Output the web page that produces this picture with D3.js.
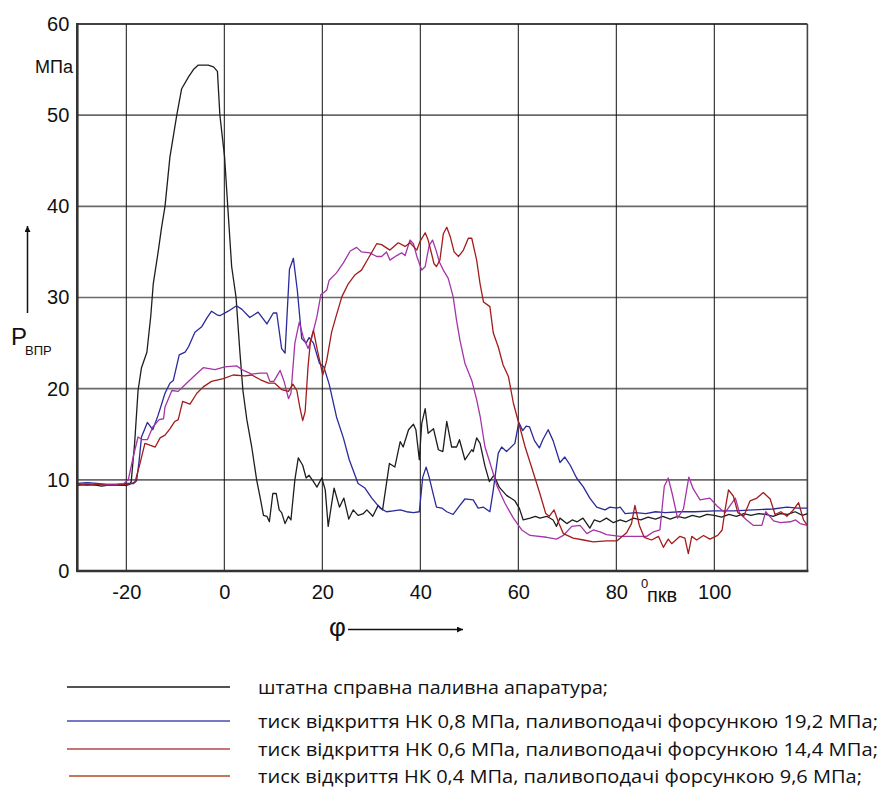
<!DOCTYPE html>
<html>
<head>
<meta charset="utf-8">
<script src="https://cdn.jsdelivr.net/npm/d3@7"></script>
<style>
  html, body { margin: 0; padding: 0; background: #fff; }
  svg { display: block; }
</style>
</head>
<body>
<svg id="chart" width="883" height="787"></svg>
<script>
// ---- data ----
const xTicks = [-20, 0, 20, 40, 60, 80, 100];
const yTicks = [0, 10, 20, 30, 40, 50, 60];

const legendLabels = [
  "штатна справна паливна апаратура;",
  "тиск відкриття НК 0,8 МПа, паливоподачі форсункою 19,2 МПа;",
  "тиск відкриття НК 0,6 МПа, паливоподачі форсункою 14,4 МПа;",
  "тиск відкриття НК 0,4 МПа, паливоподачі форсункою 9,6 МПа;"
];

const seriesStandard = [[-30,9.4],[-28,9.5],[-26,9.4],[-25,9.3],[-24,9.4],[-22,9.4],[-20,9.4],[-19.3,9.5],[-19,9.8],[-18.3,14],[-17.6,19.8],[-16.9,22.3],[-15.8,24],[-15,28],[-14.5,31.5],[-13.5,35],[-12.8,37.7],[-12.1,40],[-11.1,45.4],[-9.7,50],[-8.7,52.9],[-7.3,54.2],[-6.3,55],[-5.3,55.5],[-3.3,55.5],[-2.2,55.3],[-1.4,54.8],[-0.9,50],[0.06,45.4],[0.7,40],[1.5,33.4],[2.4,30],[3.2,23.9],[3.8,19.8],[4.6,16.6],[5.6,13.6],[6.6,10],[7.3,8.1],[8,6.1],[8.7,6],[9.2,5.4],[9.9,8.5],[10.6,8.5],[11.2,6.7],[11.7,6.4],[12.4,5.2],[13.1,6],[13.6,5.6],[14.4,10],[15.1,12.4],[16,11.6],[16.7,10.2],[17.3,10.5],[18.2,9.8],[18.9,9.2],[19.9,10.2],[20.6,8.9],[21.2,4.9],[22.4,9.1],[23.5,7],[24.4,8],[25.4,5.7],[26.3,6.7],[27.3,6.1],[28.4,6.3],[29.1,6.7],[30.3,6],[31.4,7.2],[32.3,6.7],[33.7,11.8],[34.8,11.4],[35.9,14.2],[36.5,13.6],[37.6,15.5],[38.6,16.1],[39.1,15.5],[39.8,12.2],[40.3,16.2],[41,17.8],[41.6,15.1],[42.7,15.6],[43.7,13.3],[44.6,13.1],[45.4,16.4],[46.4,13.6],[47.4,13.6],[48,14.4],[49.1,12.2],[50.5,13.3],[50.8,13.1],[51.5,14.6],[52.2,14],[53.2,11.5],[54.1,9.8],[55,10.5],[56.1,9.2],[57.6,8.3],[59.3,7.7],[60.2,6.9],[61,5.6],[62.4,5.8],[63.5,6],[64.4,5.8],[65.8,6],[67.1,5.6],[67.8,4.9],[68.5,5.8],[69.9,5.2],[71,5.6],[72,5.4],[73.2,5.8],[74.6,4.7],[75.5,5.6],[76.7,5.4],[78,5.8],[79.4,5.3],[80.8,5.6],[82,5.4],[83.5,5.8],[85,5.6],[86.5,5.9],[88,5.7],[89.5,6],[91,5.7],[92.5,6],[94,5.8],[95.5,6.1],[97,5.9],[98.5,6.2],[100,6.1],[101.5,5.9],[103,6.2],[104.5,6],[106,6.3],[107.5,6.1],[109,6.3],[110.5,6.2],[112,6],[113.5,6.3],[115,6.2],[116.5,6.5],[118,6.1],[119,6.3]];

const seriesNK08 = [[-30,9.6],[-28,9.7],[-26,9.6],[-24,9.5],[-22,9.5],[-20,9.6],[-18.5,9.6],[-17.9,9.9],[-17.4,12],[-16.9,14.7],[-15.7,16.3],[-14.6,15.5],[-13.5,17.1],[-12.1,19.5],[-11.1,20.6],[-10.4,20.9],[-9.2,23.7],[-8,24],[-7.3,24.6],[-6,26.2],[-4.6,26.8],[-3.5,27.8],[-2.6,28.5],[-1.5,28.1],[-0.9,28],[0.8,28.5],[2.5,29.1],[3.6,28.7],[5.2,27.8],[6.9,28.4],[8.7,27.1],[10,28.3],[10.7,28.3],[11.7,24.4],[12.4,23.9],[13.3,33.1],[14.1,34.3],[14.9,30.8],[15.8,25.5],[16.7,25],[17.3,25.6],[18.2,25],[19.4,22.8],[20.3,22.4],[21.4,20.5],[22.9,16.9],[24.3,14.6],[25.5,12.2],[27.3,9.6],[28.7,9.1],[30.1,8],[31.8,6.9],[33.1,6.5],[34.5,6.6],[35.9,6.7],[37.2,6.5],[38.6,6.4],[39.8,6.5],[40.5,10.3],[41.2,11.4],[41.8,10.3],[42.7,8.3],[43.3,7],[44.4,6.9],[45.4,6.5],[46.7,6.2],[47.8,7],[49.1,7.9],[50.8,7.8],[51.8,6.9],[52.9,7],[54.2,6.5],[54.9,8.9],[55.9,12.9],[56.6,13.6],[57.6,13.1],[59.3,14],[60.1,16.3],[60.9,15.4],[61.6,15.9],[62.3,15.8],[63.3,14.3],[64.3,13.5],[65,14.4],[66.1,15.5],[67.1,14.3],[68.5,11.9],[69.5,12.5],[70.6,11.6],[71.9,10.2],[73.3,9.2],[74.6,8],[76,7],[77.7,6.7],[78.7,7],[80.1,6.9],[80.8,7],[81.8,6.3],[84,6.4],[86,6.3],[88,6.5],[90,6.4],[93,6.5],[96,6.5],[100,6.6],[104,6.6],[108,6.7],[112,6.8],[114.8,7],[117,6.9],[119,6.9]];

const seriesNK06 = [[-30,9.5],[-28,9.6],[-26,9.5],[-24,9.5],[-22,9.5],[-20.5,9.6],[-19.6,10],[-18.6,12.5],[-17.6,14.7],[-16.7,14.4],[-15.7,14.4],[-14.6,15.8],[-13.3,16.6],[-12.4,16.7],[-12.1,18],[-10.7,19.8],[-9.4,19.7],[-7.7,20.6],[-6.3,21.3],[-4.3,22.3],[-1.9,22.1],[0.1,22.4],[2.5,22.5],[3.9,22],[5.6,21.6],[7.3,21.7],[8.7,21.7],[9.3,20.8],[10.1,20.8],[11.4,22],[12.2,20.8],[13.1,18.9],[13.6,19.5],[14.4,25],[15.3,27.3],[16.1,25.7],[17.1,24.4],[17.8,25.5],[18.9,27.9],[19.7,30.3],[20.9,30.8],[21.4,31.9],[22.9,32.7],[24.3,33.8],[25.7,35.1],[27,35.5],[28,35],[29.7,34.9],[31.1,34.5],[32.1,34.5],[33.1,35],[33.8,34.1],[35.2,34.6],[36.2,34.9],[36.9,34.6],[37.9,36.3],[38.6,35.9],[39.3,34.5],[40.3,33],[41,33.4],[41.8,35.7],[42.5,36.3],[43.2,35.2],[43.9,33.9],[44.7,33],[45.7,32.1],[46.7,30.1],[47.4,27.5],[48.1,25.3],[49.1,22.8],[50.5,20.9],[51.5,18.8],[52.2,17],[53.2,13.6],[54.2,11.9],[55.6,9.4],[57.3,7.4],[59,5.8],[60.7,4.5],[62.4,3.9],[65.8,3.7],[67.8,3.5],[69.2,3.9],[70.9,4.9],[72.6,5],[74,4.1],[75.3,4.5],[76.7,4.3],[78,4],[80.8,3.8],[84.8,3.8],[86.2,3.8],[87.6,4.3],[88.9,4.5],[89.8,9.3],[90.6,10.2],[91.4,8.5],[92.5,5.8],[93.7,6.8],[94.8,10.3],[95.7,9],[97.1,7.8],[99.1,8],[100.6,7.1],[102.2,6.4],[104.3,8],[105.2,6.3],[106.6,5.6],[108,5],[109.7,5],[110.5,6.5],[112.1,5.5],[113.5,5.3],[115.5,5.4],[116.6,5.6],[117.5,5.2],[119,5]];

const seriesNK04 = [[-30,9.5],[-28,9.4],[-26,9.5],[-24,9.4],[-22,9.4],[-20,9.5],[-18.8,9.6],[-18.2,9.8],[-17.2,11.8],[-16.2,14],[-15.2,13.8],[-14.1,13.6],[-13.1,14.6],[-12.1,14.9],[-11.1,15.6],[-10.1,16.4],[-9.4,16.6],[-8.5,18.6],[-7,18.3],[-5.6,19.5],[-4.3,20.2],[-2.6,20.8],[-0.2,21.1],[1.8,21.5],[4.2,21.4],[5.6,21.5],[7.3,21],[9,20.6],[10.3,20.6],[11.7,19.9],[13.1,19.7],[14,20.5],[14.8,19.8],[15.4,18],[16,16.5],[16.5,17.5],[17.1,22.5],[17.6,25.3],[18.2,26.4],[19,24.2],[20.1,21.5],[20.9,23.1],[21.9,26.2],[22.9,28.1],[24,30.1],[25.3,31.5],[26.7,32.5],[28,33],[29.4,34.3],[31.1,35.9],[32.1,35.8],[33.8,35.2],[35.5,36],[36.9,35.6],[37.9,36],[39.3,35.2],[39.9,36.1],[41,37.1],[41.6,36.3],[42.3,34.8],[42.8,33.7],[43.3,33.4],[44,34.1],[44.7,37],[45.4,37.7],[46.1,36.7],[46.9,35],[47.8,34.5],[48.8,35.2],[49.8,36.5],[50.5,36.5],[51.5,34.1],[52.2,31.5],[52.9,29.5],[54.2,29],[54.9,26.1],[55.9,24.6],[56.9,22.6],[58,21.3],[59,18.4],[60,16.4],[61.4,13.6],[62.7,11.4],[64.4,8.5],[65.6,6.3],[66.3,6],[67.3,6.7],[68.3,5.2],[69.2,4.1],[71.2,3.6],[73.3,3.4],[75.3,3.2],[78,3.3],[80.1,3.3],[82.1,4.2],[83.1,5.2],[83.8,7.2],[84.7,5],[85.7,3.7],[87.2,3.4],[88.6,3.8],[89.6,2.6],[90.6,3.5],[91.3,3],[93,3.8],[94,3.6],[94.7,1.9],[95.4,3.8],[96.4,3.4],[97.8,3.9],[99.1,3.5],[100.7,3.9],[101.6,4.5],[102.2,6.7],[102.9,8.9],[103.9,8.2],[104.8,6.4],[106,6],[107.3,7.7],[108.7,8],[110,8.6],[111.4,7.9],[112.4,6.2],[113.6,6.5],[114.8,6],[116,6.6],[117.2,7.5],[118.2,5.6],[119,5]];

// ---- drawing ----
const svg = d3.select("#chart");
svg.append("rect").attr("width", 883).attr("height", 787).attr("fill", "#fff");

const x = d3.scaleLinear().domain([-30, 119]).range([77.3, 807.4]);
const y = d3.scaleLinear().domain([0, 60]).range([571, 24]);
const FONT = "'Liberation Sans', Arial, sans-serif";

// horizontal grid
svg.append("g").selectAll("line").data(yTicks.filter(d => d > 0)).join("line")
  .attr("x1", x(-30)).attr("x2", x(119))
  .attr("y1", d => y(d)).attr("y2", d => y(d))
  .attr("stroke", d => d === 60 ? "#444" : "#6a6a6a")
  .attr("stroke-width", d => d === 60 ? 2 : 1.6);

// vertical grid
svg.append("g").selectAll("line").data(xTicks).join("line")
  .attr("x1", d => x(d)).attr("x2", d => x(d))
  .attr("y1", y(60)).attr("y2", y(0))
  .attr("stroke", "#111").attr("stroke-width", 1);

// right border
svg.append("line").attr("x1", x(119)).attr("x2", x(119)).attr("y1", y(60)).attr("y2", y(0))
  .attr("stroke", "#444").attr("stroke-width", 1.6);

// curves
const line = d3.line().x(d => x(d[0])).y(d => y(d[1]));
const curves = [
  {data: seriesStandard, color: "#1e1e1e"},
  {data: seriesNK08, color: "#2a2a9c"},
  {data: seriesNK06, color: "#a534a8"},
  {data: seriesNK04, color: "#a31c1c"}
];
svg.append("g").selectAll("path").data(curves).join("path")
  .attr("d", d => line(d.data))
  .attr("fill", "none")
  .attr("stroke", d => d.color)
  .attr("stroke-width", 1.3)
  .attr("stroke-linejoin", "round");

// axes
const fmt = d => String(d);
const yAxis = d3.axisLeft(y).tickValues(yTicks).tickFormat(fmt).tickSize(0).tickPadding(8);
const gy = svg.append("g").attr("transform", `translate(${x(-30)},0)`).call(yAxis);
gy.select(".domain").remove();
gy.selectAll("text").attr("font-family", FONT).attr("font-size", 20).attr("fill", "#111");

const xAxis = d3.axisBottom(x).tickValues(xTicks).tickFormat(fmt).tickSize(0).tickPadding(14);
const gx = svg.append("g").attr("transform", `translate(0,${y(0)})`).call(xAxis);
gx.select(".domain").remove();
gx.selectAll("text").attr("font-family", FONT).attr("font-size", 20).attr("fill", "#111");

svg.append("line").attr("x1", x(-30)).attr("x2", x(-30)).attr("y1", y(60) - 1).attr("y2", y(0) + 1)
  .attr("stroke", "#333").attr("stroke-width", 2.6);
svg.append("line").attr("x1", x(-30) - 1).attr("x2", x(119) + 1).attr("y1", y(0)).attr("y2", y(0))
  .attr("stroke", "#333").attr("stroke-width", 2.6);

// arrow marker
const defs = svg.append("defs");
defs.append("marker").attr("id", "arr").attr("viewBox", "0 0 10 10")
  .attr("refX", 10).attr("refY", 5).attr("markerWidth", 9).attr("markerHeight", 6)
  .attr("markerUnits", "userSpaceOnUse").attr("orient", "auto")
  .append("path").attr("d", "M0,0 L10,5 L0,10 z").attr("fill", "#111");

// y-axis title
svg.append("text").attr("x", 35).attr("y", 73).text("МПа")
  .attr("font-family", FONT).attr("font-size", 18).attr("fill", "#111");
svg.append("line").attr("x1", 27.5).attr("x2", 27.5).attr("y1", 313).attr("y2", 226)
  .attr("stroke", "#111").attr("stroke-width", 1.5).attr("marker-end", "url(#arr)");
svg.append("text").attr("x", 11).attr("y", 345).text("P")
  .attr("font-family", FONT).attr("font-size", 24).attr("fill", "#111");
svg.append("text").attr("x", 25).attr("y", 355).text("ВПР")
  .attr("font-family", FONT).attr("font-size", 13).attr("fill", "#111");

// x-axis title
svg.append("text").attr("x", 329).attr("y", 636).text("φ")
  .attr("font-family", FONT).attr("font-size", 26).attr("fill", "#111");
svg.append("line").attr("x1", 348).attr("x2", 463).attr("y1", 629.5).attr("y2", 629.5)
  .attr("stroke", "#111").attr("stroke-width", 1.5).attr("marker-end", "url(#arr)");
svg.append("text").attr("x", 641).attr("y", 588).text("0")
  .attr("font-family", FONT).attr("font-size", 13).attr("fill", "#111");
svg.append("text").attr("x", 647).attr("y", 602).text("пкв")
  .attr("font-family", FONT).attr("font-size", 20).attr("fill", "#111");

// legend
const legendColors = ["#1a1a1a", "#4a4ab6", "#c87474", "#b04a1c"];
const legendLineY = [687, 721, 749, 776];
const legendTextW = [350, 620, 620, 604];
const lg = svg.append("g");
legendLabels.forEach((t, i) => {
  lg.append("line").attr("x1", i === 3 ? 69 : 67).attr("x2", 230)
    .attr("y1", legendLineY[i]).attr("y2", legendLineY[i])
    .attr("stroke", legendColors[i]).attr("stroke-width", i === 2 ? 2 : 1.4);
  lg.append("text").attr("x", 258).attr("y", legendLineY[i] + 7).text(t)
    .attr("font-family", "'Open Sans', sans-serif").attr("font-size", 18)
    .attr("textLength", legendTextW[i]).attr("lengthAdjust", "spacingAndGlyphs")
    .attr("fill", "#111");
});
</script>
</body>
</html>
